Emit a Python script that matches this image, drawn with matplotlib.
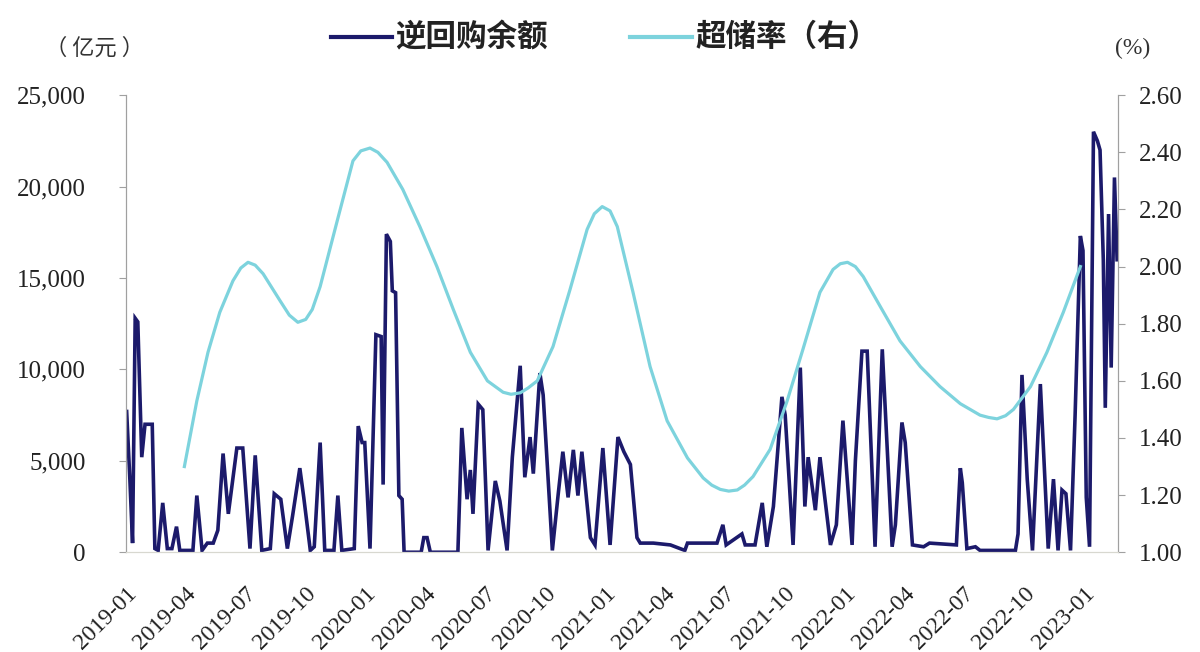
import matplotlib
matplotlib.use('Agg')
import matplotlib.pyplot as plt
import matplotlib.ticker as mticker
from matplotlib.lines import Line2D
import pandas as pd

# 逆回购余额 (亿元)
rr_dates = ['2019-01-02', '2019-01-07', '2019-01-11', '2019-01-15', '2019-01-19', '2019-01-25',
            '2019-01-30', '2019-02-10', '2019-02-14', '2019-02-19', '2019-02-26', '2019-03-05',
            '2019-03-12', '2019-03-19', '2019-03-24', '2019-04-13', '2019-04-19', '2019-04-27',
            '2019-05-05', '2019-05-14', '2019-05-21', '2019-05-29', '2019-06-06', '2019-06-19',
            '2019-06-28', '2019-07-09', '2019-07-17', '2019-07-27', '2019-08-09', '2019-08-15',
            '2019-08-25', '2019-09-04', '2019-09-12', '2019-09-23', '2019-09-29', '2019-10-09',
            '2019-10-15', '2019-10-24', '2019-10-31', '2019-11-14', '2019-11-20', '2019-11-26',
            '2019-12-15', '2019-12-21', '2019-12-27', '2019-12-31', '2020-01-08', '2020-01-17',
            '2020-01-25', '2020-01-28', '2020-02-02', '2020-02-08', '2020-02-11', '2020-02-16',
            '2020-02-21', '2020-02-26', '2020-02-29', '2020-03-26', '2020-03-30', '2020-04-04',
            '2020-04-09', '2020-05-21', '2020-05-27', '2020-06-04', '2020-06-09', '2020-06-13',
            '2020-06-21', '2020-06-28', '2020-07-06', '2020-07-17', '2020-07-24', '2020-08-04',
            '2020-08-12', '2020-08-24', '2020-08-31', '2020-09-08', '2020-09-13', '2020-09-23',
            '2020-09-28', '2020-10-12', '2020-10-21', '2020-10-28', '2020-11-05', '2020-11-13',
            '2020-11-20', '2020-11-26', '2020-12-09', '2020-12-16', '2020-12-28', '2021-01-08',
            '2021-01-20', '2021-01-29', '2021-02-08', '2021-02-18', '2021-02-23', '2021-03-15',
            '2021-04-10', '2021-05-02', '2021-05-06', '2021-06-20', '2021-06-29', '2021-07-04',
            '2021-07-28', '2021-08-02', '2021-08-17', '2021-08-28', '2021-09-04', '2021-09-14',
            '2021-09-27', '2021-10-02', '2021-10-14', '2021-10-25', '2021-11-01', '2021-11-06',
            '2021-11-17', '2021-11-24', '2021-12-10', '2021-12-19', '2021-12-29', '2022-01-12',
            '2022-01-17', '2022-01-27', '2022-02-04', '2022-02-16', '2022-02-27', '2022-03-14',
            '2022-03-19', '2022-03-29', '2022-04-03', '2022-04-14', '2022-05-01', '2022-05-10',
            '2022-06-20', '2022-06-26', '2022-06-29', '2022-07-06', '2022-07-19', '2022-07-26',
            '2022-09-18', '2022-09-22', '2022-09-28', '2022-10-06', '2022-10-14', '2022-10-26',
            '2022-11-07', '2022-11-15', '2022-11-22', '2022-11-28', '2022-12-04', '2022-12-11',
            '2022-12-18', '2022-12-26', '2022-12-30', '2023-01-04', '2023-01-09', '2023-01-15',
            '2023-01-21', '2023-01-25', '2023-01-30', '2023-02-02', '2023-02-07', '2023-02-11',
            '2023-02-16', '2023-02-20']
rr_values = [7700, 3900, 500, 12800, 12600, 5200,
             7000, 7000, 200, 100, 2700, 200,
             200, 1400, 100, 100, 3100, 100,
             500, 500, 1200, 5400, 2100, 5700,
             5700, 200, 5300, 100, 200, 3200,
             2900, 200, 2000, 4600, 3000, 100,
             300, 6000, 100, 100, 3100, 100,
             200, 6900, 6000, 6000, 200, 11900,
             11800, 3700, 17400, 17000, 14300, 14200,
             3100, 2900, 0, 0, 800, 800,
             0, 0, 6800, 2900, 4500, 2100,
             8100, 7800, 100, 3900, 2800, 100,
             5200, 10200, 4100, 6300, 4300, 9800,
             8600, 100, 3200, 5500, 3000, 5600,
             3100, 5500, 800, 400, 5700, 400,
             6300, 5500, 4800, 800, 500, 500,
             400, 100, 500, 500, 1500, 400,
             1000, 400, 400, 2700, 300, 2500,
             8500, 7500, 400, 10100, 2500, 5200,
             2300, 5200, 400, 1500, 7200, 400,
             5000, 11000, 11000, 300, 11100, 300,
             1500, 7100, 6000, 400, 300, 500,
             400, 4600, 3800, 200, 300, 100,
             100, 1000, 9700, 4000, 100, 9200,
             200, 4000, 100, 3400, 3200, 100,
             7500, 17300, 16500, 3000, 300, 23000,
             22500, 22000, 16000, 7900, 18500, 10100,
             20500, 16000]

# 超储率 (%)
ers_dates = ['2019-03-31', '2019-04-19', '2019-05-06', '2019-05-24', '2019-06-13', '2019-06-25',
             '2019-07-06', '2019-07-17', '2019-07-29', '2019-08-24', '2019-09-07', '2019-09-20',
             '2019-10-02', '2019-10-12', '2019-10-24', '2019-11-19', '2019-12-13', '2019-12-25',
             '2020-01-08', '2020-01-20', '2020-02-03', '2020-02-27', '2020-03-24', '2020-04-19',
             '2020-05-14', '2020-06-09', '2020-07-05', '2020-07-29', '2020-08-10', '2020-08-24',
             '2020-09-05', '2020-09-19', '2020-10-13', '2020-11-08', '2020-12-04', '2020-12-15',
             '2020-12-27', '2021-01-08', '2021-01-19', '2021-02-12', '2021-03-10', '2021-04-05',
             '2021-05-06', '2021-05-30', '2021-06-12', '2021-06-25', '2021-07-08', '2021-07-21',
             '2021-08-01', '2021-08-14', '2021-09-09', '2021-10-05', '2021-10-29', '2021-11-24',
             '2021-12-14', '2021-12-25', '2022-01-05', '2022-01-17', '2022-01-29', '2022-02-24',
             '2022-03-26', '2022-04-26', '2022-05-26', '2022-06-26', '2022-07-26', '2022-08-08',
             '2022-08-21', '2022-09-03', '2022-09-15', '2022-10-11', '2022-11-05', '2022-11-30',
             '2022-12-26']
ers_values = [1.30, 1.53, 1.70, 1.84, 1.95, 1.995,
              2.015, 2.005, 1.975, 1.88, 1.83, 1.805,
              1.815, 1.85, 1.93, 2.16, 2.37, 2.405,
              2.415, 2.40, 2.365, 2.27, 2.14, 2.00,
              1.85, 1.70, 1.60, 1.56, 1.553, 1.558,
              1.575, 1.60, 1.72, 1.92, 2.13, 2.185,
              2.21, 2.195, 2.14, 1.91, 1.65, 1.46,
              1.33, 1.26, 1.235, 1.22, 1.214, 1.218,
              1.235, 1.265, 1.36, 1.53, 1.71, 1.91,
              1.99, 2.01, 2.015, 2.0, 1.965, 1.86,
              1.74, 1.65, 1.58, 1.52, 1.48, 1.472,
              1.467, 1.478, 1.50, 1.58, 1.70, 1.84,
              2.00]

tick_dates = pd.date_range('2019-01-01', '2023-01-01', freq='QS')
tick_labels = [d.strftime('%Y-%m') for d in tick_dates]

navy = '#1c1a6b'
cyan = '#7dd3dd'
grey = '#a0a0a0'
serif = ['Liberation Serif', 'DejaVu Serif']
cjk = ['Noto Sans CJK SC', 'DejaVu Sans']

fig = plt.figure(figsize=(12, 6.52), dpi=100)
ax = fig.add_axes([0.105, 0.153, 0.827, 0.701])
ax2 = ax.twinx()

ax.plot(pd.to_datetime(rr_dates), rr_values, color=navy, lw=2.6, solid_joinstyle='miter')
ax2.plot(pd.to_datetime(ers_dates), ers_values, color=cyan, lw=2.3, solid_joinstyle='round')

ax.set_xlim(pd.Timestamp('2019-01-01'), pd.Timestamp('2023-02-22'))
ax.set_ylim(0, 25000)
ax2.set_ylim(1.0, 2.6)
ax.set_yticks(range(0, 25001, 5000))
ax2.set_yticks([1.0, 1.2, 1.4, 1.6, 1.8, 2.0, 2.2, 2.4, 2.6])
ax.yaxis.set_major_formatter(mticker.FuncFormatter(lambda v, p: f'{int(v):,}'))
ax2.yaxis.set_major_formatter(mticker.FormatStrFormatter('%.2f'))

ax.set_xticks(tick_dates)
ax.set_xticklabels(tick_labels, rotation=45, ha='right', rotation_mode='anchor',
                   family=serif, fontsize=17, color='#222222')
ax.tick_params(axis='x', length=0, pad=22)

for a in (ax, ax2):
    a.spines['top'].set_visible(False)
    a.spines['left'].set_color(grey)
    a.spines['right'].set_color(grey)
    a.spines['bottom'].set_color('#d8d8d0')
ax.tick_params(axis='y', direction='out', length=5, color=grey, pad=24, labelsize=18)
ax2.tick_params(axis='y', direction='out', length=5, color=grey, pad=10, labelsize=18)
for lab in ax.get_yticklabels() + ax2.get_yticklabels():
    lab.set_family(serif)
    lab.set_color('#222222')

fig.text(0.079, 1 - 48 / 652, '（ 亿元 ）', ha='center', va='center', family=cjk,
         fontsize=16, color='#333333')
fig.text(0.944, 1 - 48 / 652, '(%)', ha='center', va='center', family=serif,
         fontsize=17, color='#333333')

# legend drawn by hand across the top
leg_y = 1 - 37 / 652
fig.add_artist(Line2D([331 / 1200, 392 / 1200], [leg_y, leg_y], color=navy, lw=3,
                      transform=fig.transFigure))
fig.text(395 / 1200, leg_y, '逆回购余额', ha='left', va='center', family=cjk,
         fontsize=22, weight='bold', color='#222222')
fig.add_artist(Line2D([630 / 1200, 692 / 1200], [leg_y, leg_y], color=cyan, lw=3,
                      transform=fig.transFigure))
fig.text(695 / 1200, leg_y, '超储率（右）', ha='left', va='center', family=cjk,
         fontsize=22, weight='bold', color='#222222')

fig.savefig('out.png', dpi=100)
